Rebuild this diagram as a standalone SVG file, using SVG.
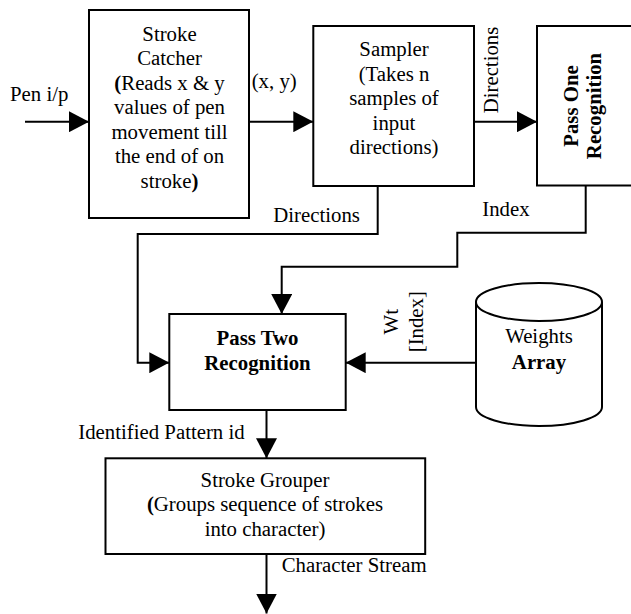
<svg xmlns="http://www.w3.org/2000/svg" width="631" height="614" viewBox="0 0 631 614">
<style>
text{font-family:"Liberation Serif","Times New Roman",serif;font-size:20.8px;fill:#000}
.c{text-anchor:middle}
.b{font-weight:bold}
.box{fill:#fff;stroke:#000;stroke-width:2}
.ln{fill:none;stroke:#000;stroke-width:2;marker-end:url(#ah)}
</style>
<defs>
<marker id="ah" markerUnits="userSpaceOnUse" markerWidth="20" markerHeight="21" refX="20" refY="10.5" orient="auto">
<path d="M0,0 L20,10.5 L0,21 Z" fill="#000"/>
</marker>
</defs>
<rect width="631" height="614" fill="#fff"/>
<g id="connectors">
<path class="ln" d="M25,121.7 H89"/>
<path class="ln" d="M249,121.7 H313.3"/>
<path class="ln" d="M474,121.7 H537"/>
<path class="ln" d="M377.7,186 V234 H137.7 V362.7 H169.3"/>
<path class="ln" d="M585.7,185.5 V232.7 H457.3 V266.7 H281.7 V314"/>
<path class="ln" d="M476,362.7 H345.7"/>
<path class="ln" d="M266.5,410 V458.3"/>
<path class="ln" d="M266.5,554 V613.5"/>
<text x="10" y="100.7">Pen i/p</text>
<text x="251.7" y="87.5">(x, y)</text>
<text transform="translate(498,70) rotate(-90)" class="c">Directions</text>
<text x="273.3" y="221.7">Directions</text>
<text x="482.3" y="215.7">Index</text>
<text transform="translate(398,321.7) rotate(-90)" class="c">Wt</text>
<text transform="translate(423,321.7) rotate(-90)" class="c">[Index]</text>
<text x="78.3" y="439.3">Identified Pattern id</text>
<text x="281.7" y="571.7">Character Stream</text>
</g>
<g id="stroke-catcher">
<rect class="box" x="89" y="10" width="160" height="208"/>
<text class="c" x="169.5" y="40.7">Stroke</text>
<text class="c" x="169.5" y="65.2">Catcher</text>
<text class="c" x="169.5" y="89.7"><tspan class="b">(</tspan>Reads x &amp; y</text>
<text class="c" x="169.5" y="114.2">values of pen</text>
<text class="c" x="169.5" y="138.7">movement till</text>
<text class="c" x="169.5" y="163.2">the end of on</text>
<text class="c" x="169.5" y="187.7">stroke<tspan class="b">)</tspan></text>
</g>
<g id="sampler">
<rect class="box" x="313.3" y="26" width="160.7" height="160"/>
<text class="c" x="394" y="56">Sampler</text>
<text class="c" x="394" y="80.5">(Takes n</text>
<text class="c" x="394" y="105">samples of</text>
<text class="c" x="394" y="129.5">input</text>
<text class="c" x="394" y="154">directions)</text>
</g>
<g id="pass-one">
<rect class="box" x="537" y="26" width="110" height="159.5"/>
<text class="c b" transform="translate(577.5,106) rotate(-90)">Pass One</text>
<text class="c b" transform="translate(601,106) rotate(-90)">Recognition</text>
</g>
<g id="pass-two">
<rect class="box" x="169.3" y="314" width="176.4" height="96"/>
<text class="c b" x="257.5" y="345">Pass Two</text>
<text class="c b" x="257.5" y="369.5">Recognition</text>
</g>
<g id="weights-array">
<path d="M476,302 V407 A63,19 0 0 0 602,407 V302 A63,19 0 0 0 476,302 Z" fill="#fff" stroke="#000" stroke-width="2"/>
<path d="M476,302 A63,19 0 0 0 602,302" fill="none" stroke="#000" stroke-width="2"/>
<text class="c" x="539" y="343">Weights</text>
<text class="c b" x="539" y="369">Array</text>
</g>
<g id="stroke-grouper">
<rect class="box" x="105.5" y="458.3" width="319.7" height="95.7"/>
<text class="c" x="265" y="486.5">Stroke Grouper</text>
<text class="c" x="265" y="511"><tspan class="b">(</tspan>Groups sequence of strokes</text>
<text class="c" x="265" y="535.5">into character)</text>
</g>
</svg>
